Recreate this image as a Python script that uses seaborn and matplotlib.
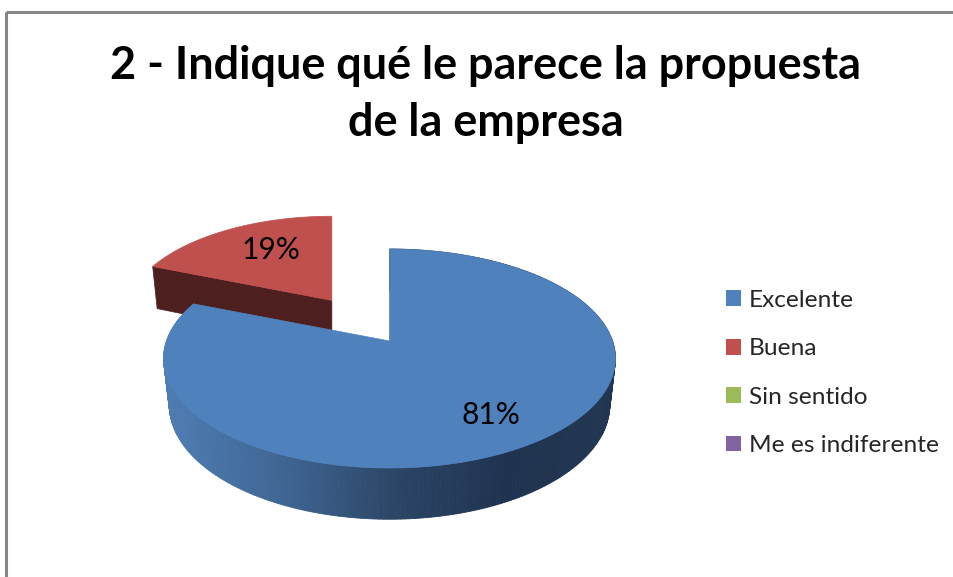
import numpy as np
import matplotlib
matplotlib.use("Agg")
import matplotlib.pyplot as plt
from matplotlib.colors import LinearSegmentedColormap
from matplotlib.patches import Patch, Rectangle
import seaborn as sns

title_lines = ["2 - Indique qué le parece la propuesta", "de la empresa"]
categories = ["Excelente", "Buena", "Sin sentido", "Me es indiferente"]
values = [81, 19, 0, 0]
explode = [0.0, 0.46, 0.0, 0.0]
face_colors = ["#4F81BD", "#C0504D", "#9BBB59", "#8064A2"]
wall_color = "#4D1F1E"
side_shades = ["#4E7CB3", "#3F6694", "#2C4666", "#1F3350", "#213651"]

sns.set_theme(style="white")
plt.rcParams["font.family"] = ["Lato", "DejaVu Sans"]
palette = sns.color_palette(face_colors)

fig, ax = plt.subplots(figsize=(9.54, 5.77), dpi=100)
ax.set_position([0, 0, 1, 1])
ax.set_xlim(0, 954)
ax.set_ylim(577, 0)
ax.axis("off")

CX, CY, A, B, K = 389.5, 341.0, 223.0, 106.7, 0.16
EXPLODED_SCALE = 0.915
side_map = LinearSegmentedColormap.from_list("side", side_shades)


def project(u, v):
    w = 1 + K * v
    return A * u / w, B * v / w


def top_xy(u, v, ox=0.0, oy=0.0, s=1.0):
    x, y = project(u, v)
    return CX + ox + s * x, CY + oy - s * y


def bottom_xy(u, v, ox=0.0, oy=0.0, s=1.0):
    x, y = project(u, v)
    return CX + ox + 0.975 * s * x, CY + oy - s * y + 45.5 - 0.045 * (s * y - oy)


fracs = 2 * np.pi * np.array(values, dtype=float) / sum(values)
start = np.pi / 2
slices = []
for val, fr, ex, col in zip(values, fracs, explode, palette):
    if val == 0:
        continue
    slices.append((start - fr, start, ex, col))
    start -= fr

# red slice first (it sits behind), then the blue one
for lo, hi, ex, col in reversed(slices):
    mid = (lo + hi) / 2
    ox, oy = A * ex * np.cos(mid), -B * ex * np.sin(mid)
    s = EXPLODED_SCALE if ex > 0 else 1.0
    th = np.linspace(lo, hi, 300)
    u, v = np.cos(th), np.sin(th)
    tx, ty = top_xy(u, v, ox, oy, s)
    bx, by = bottom_xy(u, v, ox, oy, s)
    ax0, ay0 = top_xy(0.0, 0.0, ox, oy, s)
    if ex == 0:
        for i in range(len(th) - 1):
            frac = np.clip((tx[i] - 165) / (617 - 165), 0, 1)
            c = side_map(frac)
            ax.fill([tx[i], tx[i + 1], bx[i + 1], bx[i]],
                    [ty[i], ty[i + 1], by[i + 1], by[i]],
                    color=c, lw=0.6, zorder=2)
    else:
        bx0, by0 = bottom_xy(0.0, 0.0, ox, oy, s)
        ax.fill([tx[-1], ax0, bx0, bx[-1]], [ty[-1], ay0, by0, by[-1]],
                color=wall_color, lw=0.5, zorder=1)
    ax.fill(np.r_[ax0, tx], np.r_[ay0, ty], color=col, lw=0.5,
            zorder=3 if ex == 0 else 1.5)

ax.add_patch(Rectangle((6, 12), 1200, 800, fill=False, ec="#868686", lw=2.2, zorder=5))

ax.text(486, 66, title_lines[0], ha="center", va="center", fontsize=32.4,
        fontweight="bold", color="black", zorder=6)
ax.text(486, 123, title_lines[1], ha="center", va="center", fontsize=32.4,
        fontweight="bold", color="black", zorder=6)
ax.text(271, 250, f"{values[1]}%", ha="center", va="center", fontsize=21.5,
        color="black", zorder=6)
ax.text(491, 415, f"{values[0]}%", ha="center", va="center", fontsize=21.5,
        color="black", zorder=6)

handles = [Patch(facecolor=c, edgecolor="none", label=l) for c, l in zip(palette, categories)]
ax.legend(handles=handles, loc="upper left", bbox_to_anchor=(726 / 954, 1 - 290 / 577),
          frameon=False, fontsize=17.6, handlelength=0.62, handleheight=0.62,
          handletextpad=0.32, labelspacing=1.12, borderpad=0, borderaxespad=0)

fig.savefig("out.png", dpi=100, facecolor="white")
